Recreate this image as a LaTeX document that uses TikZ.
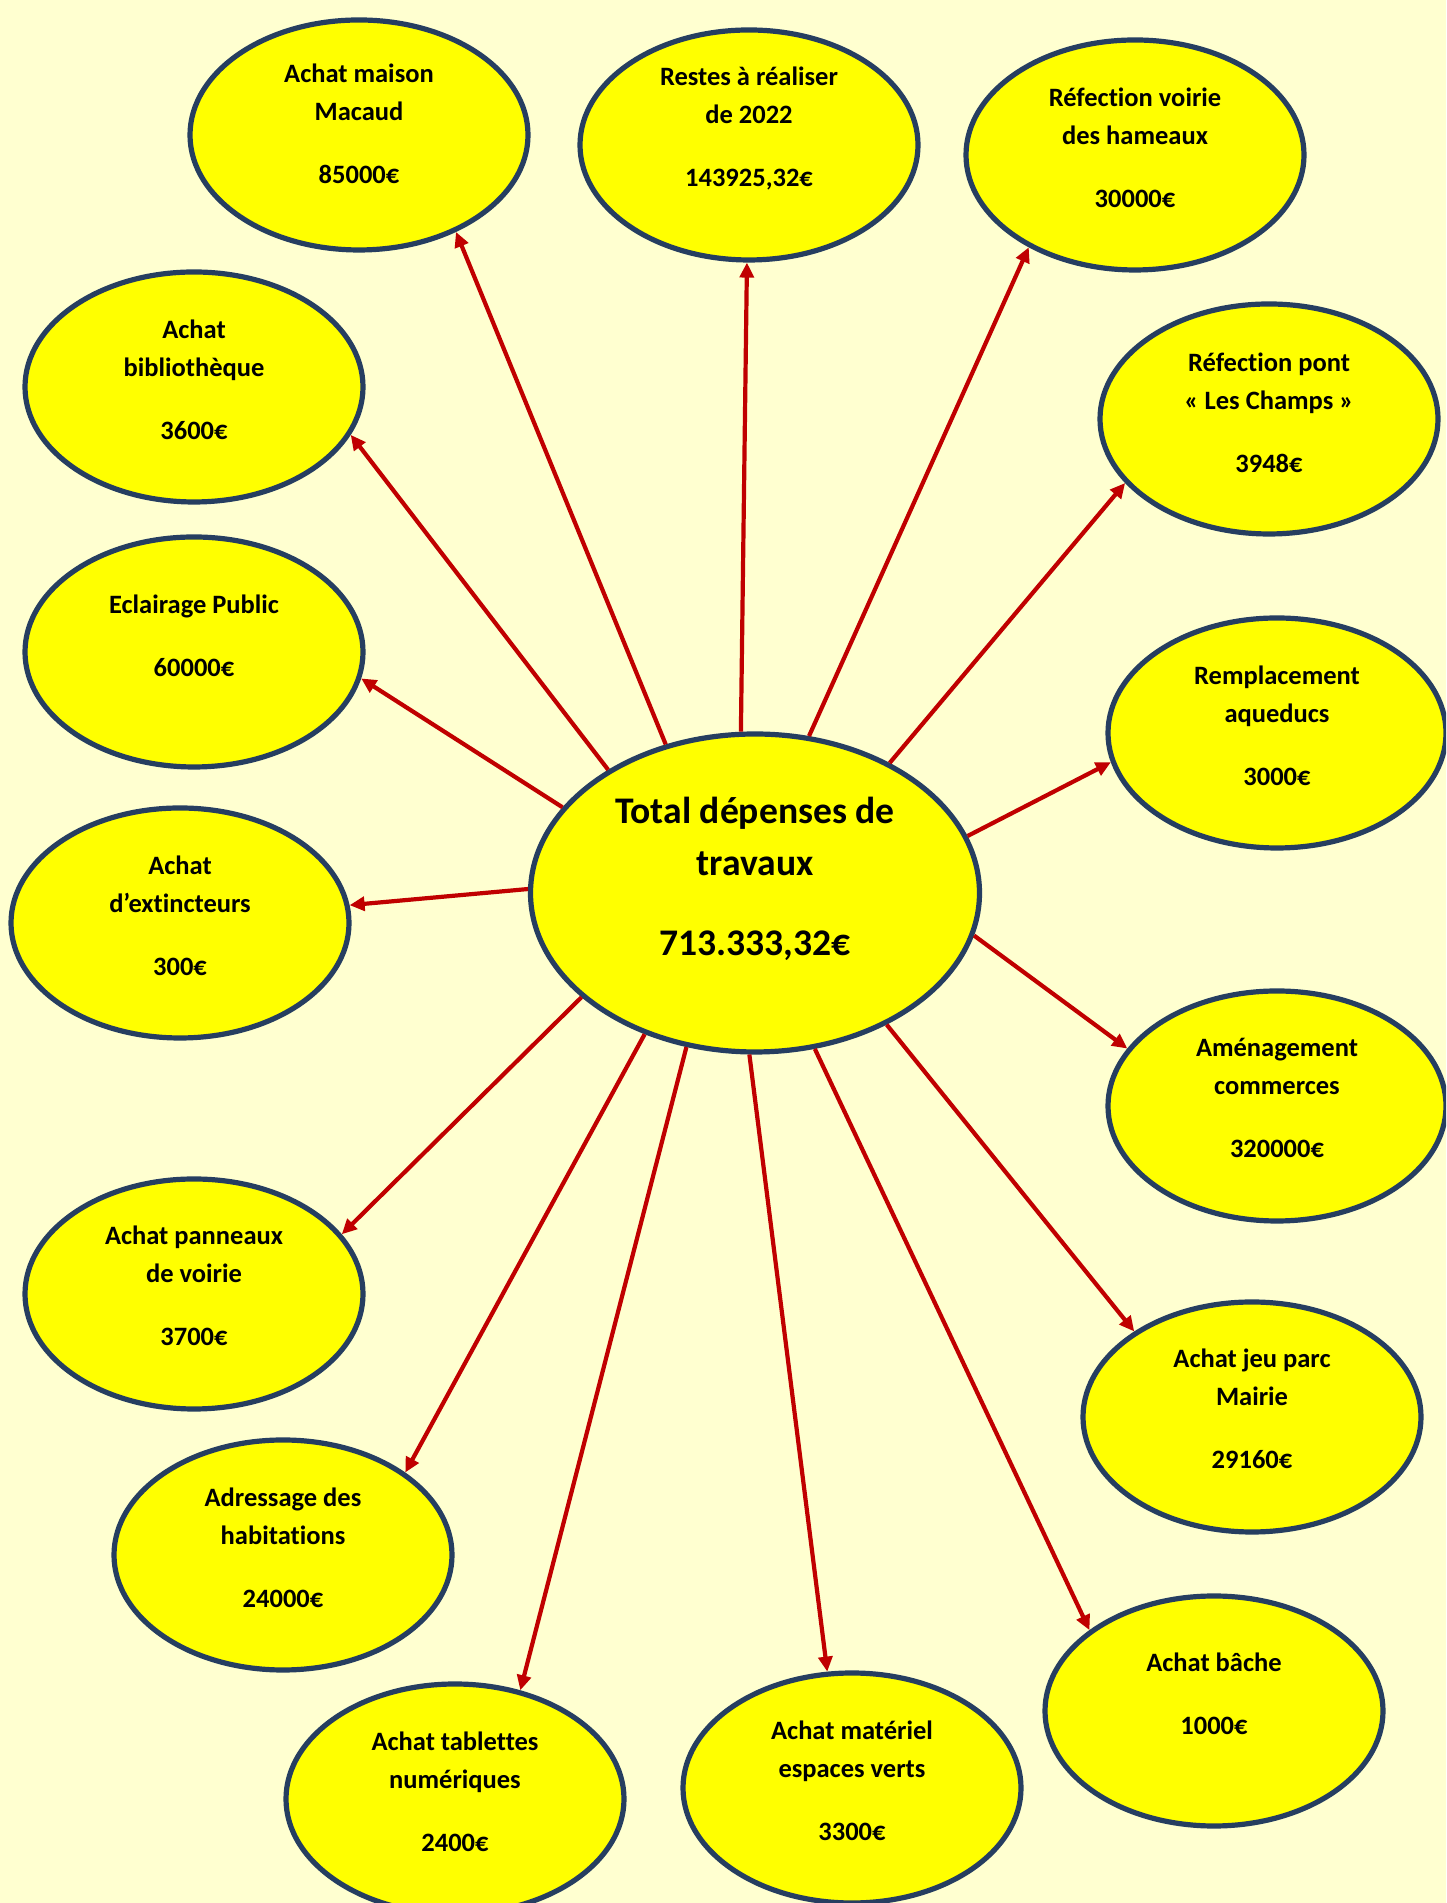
\documentclass[tikz,border=0pt]{standalone}
\usepackage{fontspec}
\setmainfont{Carlito}[Ligatures={NoCommon}]
\usetikzlibrary{shapes.geometric,arrows.meta,calc}
\definecolor{bgcol}{RGB}{255,255,208}
\definecolor{fillcol}{RGB}{255,255,0}
\definecolor{edgecol}{RGB}{38,62,96}
\definecolor{arrcol}{RGB}{192,0,0}
\tikzset{
  bub/.style={ellipse, draw=edgecol, fill=fillcol, line width=5.2pt, inner sep=0pt,
              minimum width=338pt, minimum height=230pt},
  bigbub/.style={ellipse, draw=edgecol, fill=fillcol, line width=5.2pt, inner sep=0pt,
              minimum width=449pt, minimum height=318pt},
  lbl/.style={anchor=base, inner sep=0pt, font=\bfseries\fontsize{26.5}{38}\selectfont},
  biglbl/.style={anchor=base, inner sep=0pt, font=\bfseries\fontsize{37.6}{52}\selectfont},
  arr/.style={draw=arrcol, line width=4.2pt, -{Triangle[length=15pt,width=14pt]}},
}
\newcommand{\twol}[3]{\begin{tabular}[t]{@{}c@{}}#1\\#2\\[25pt]#3\end{tabular}}
\newcommand{\onel}[2]{\begin{tabular}[t]{@{}c@{}}#1\\[25pt]#2\end{tabular}}
\begin{document}
\begin{tikzpicture}[x=1pt,y=1pt]
\fill[bgcol] (0,0) rectangle (1446,1903);
\useasboundingbox (0,0) rectangle (1446,1903);
\clip (0,0) rectangle (1446,1903);

% bubbles
\node[bigbub] (c) at (755,1010) {};
\node[bub] (e1) at (359,1768) {};
\node[bub] (e2) at (749,1758) {};
\node[bub] (e3) at (1135,1748) {};
\node[bub] (e4) at (194,1516) {};
\node[bub] (e5) at (1269,1484) {};
\node[bub] (e6) at (194,1251) {};
\node[bub] (e7) at (1277,1170) {};
\node[bub] (e8) at (180,980) {};
\node[bub] (e9) at (1277,797) {};
\node[bub] (e10) at (194,609) {};
\node[bub] (e11) at (1252,486) {};
\node[bub] (e12) at (283,348) {};
\node[bub] (e13) at (1214,192) {};
\node[bub] (e14) at (455,104) {};
\node[bub] (e15) at (852,115) {};

% texts
\node[biglbl] (tc) at ($(c)+(0,69)$) {\begin{tabular}[t]{@{}c@{}}Total dépenses de\\travaux\\[28pt]713.333,32€\end{tabular}};
\node[lbl] (t1) at ($(e1)+(0,52)$) {\twol{Achat maison}{Macaud}{85000€}};
\node[lbl] (t2) at ($(e2)+(0,59)$) {\twol{Restes à réaliser}{de 2022}{143925,32€}};
\node[lbl] (t3) at ($(e3)+(0,48)$) {\twol{Réfection voirie}{des hameaux}{30000€}};
\node[lbl] (t4) at ($(e4)+(0,48)$) {\twol{Achat}{bibliothèque}{3600€}};
\node[lbl] (t5) at ($(e5)+(0,47)$) {\twol{Réfection pont}{« Les Champs »}{3948€}};
\node[lbl] (t6) at ($(e6)+(0,38)$) {\onel{Eclairage Public}{60000€}};
\node[lbl] (t7) at ($(e7)+(0,48)$) {\twol{Remplacement}{aqueducs}{3000€}};
\node[lbl] (t8) at ($(e8)+(0,48)$) {\twol{Achat}{d’extincteurs}{300€}};
\node[lbl] (t9) at ($(e9)+(0,49)$) {\twol{Aménagement}{commerces}{320000€}};
\node[lbl] (t10) at ($(e10)+(0,49)$) {\twol{Achat panneaux}{de voirie}{3700€}};
\node[lbl] (t11) at ($(e11)+(0,49)$) {\twol{Achat jeu parc}{Mairie}{29160€}};
\node[lbl] (t12) at ($(e12)+(0,48)$) {\twol{Adressage des}{habitations}{24000€}};
\node[lbl] (t13) at ($(e13)+(0,39)$) {\onel{Achat bâche}{1000€}};
\node[lbl] (t14) at ($(e14)+(0,48)$) {\twol{Achat tablettes}{numériques}{2400€}};
\node[lbl] (t15) at ($(e15)+(0,48)$) {\twol{Achat matériel}{espaces verts}{3300€}};

% arrows
\draw[arr] (c.121) -- (e1.-45);
\draw[arr] (c.95) -- (e2.-91);
\draw[arr] (c.71) -- (e3.221);
\draw[arr] (c.140) -- (e4.-17);
\draw[arr] (c.44) -- (e5.204);
\draw[arr] (c.156) -- (e6.-9);
\draw[arr] (c.15) -- (e7.190);
\draw[arr] (c.179) -- (e8.6);
\draw[arr] (c.-11.5) -- (e9.159);
\draw[arr] (c.211) -- (e10.22);
\draw[arr] (c.-45.5) -- (e11.144);
\draw[arr] (c.232) -- (e12.34);
\draw[arr] (c.-69) -- (e13.147);
\draw[arr] (c.246.5) -- (e14.59);
\draw[arr] (c.268) -- (e15.102);
\end{tikzpicture}
\end{document}
